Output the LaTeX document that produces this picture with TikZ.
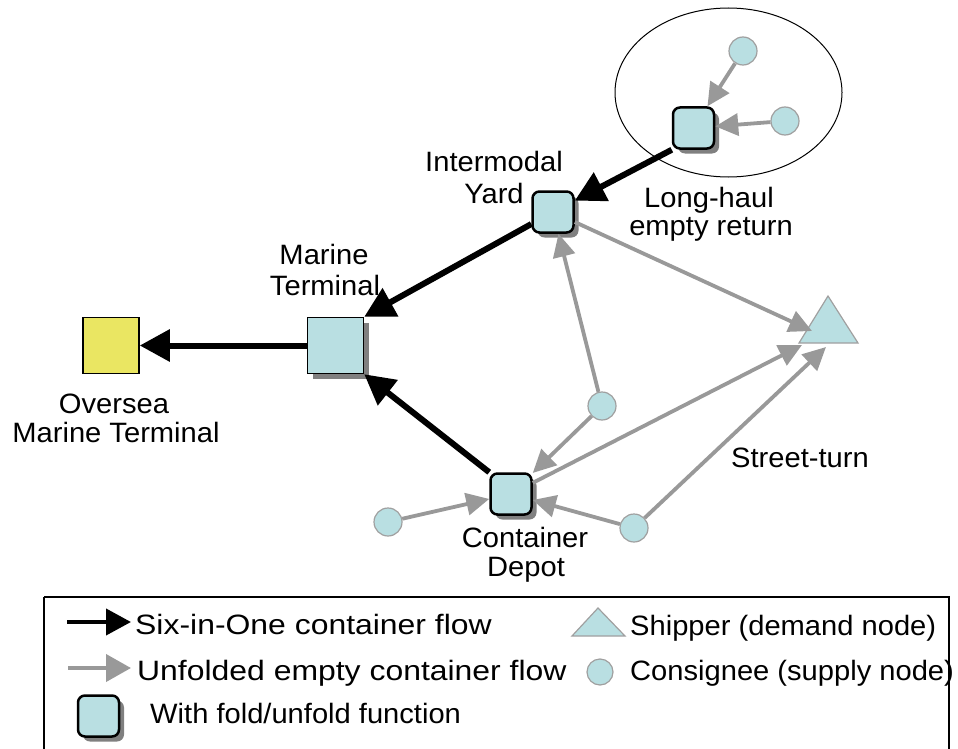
\documentclass[tikz,border=0pt]{standalone}
\usepackage{fontspec}
\setmainfont[FakeStretch=1.04]{Liberation Sans}
\newfontfamily\wideface[FakeStretch=1.14]{Liberation Sans}
\usetikzlibrary{arrows.meta,shadows}

\definecolor{nodeblue}{RGB}{185,223,226}
\definecolor{termyellow}{RGB}{234,230,98}
\definecolor{flowgray}{RGB}{153,153,153}
\definecolor{rimgray}{RGB}{160,160,160}
\definecolor{shadowgray}{RGB}{128,128,128}

\tikzset{
  lbl/.style={anchor=base, inner sep=0pt, font=\fontsize{28}{31}\selectfont},
  legtxt/.style={anchor=base west, inner sep=0pt, font=\fontsize{28}{31}\selectfont},
  legwide/.style={anchor=base west, inner sep=0pt, font=\wideface\fontsize{28}{31}\selectfont},
  boxshadow/.style={drop shadow={shadow xshift=5pt, shadow yshift=-5pt, opacity=1, fill=shadowgray}},
  foldbox/.style={draw=black, line width=2.5pt, rounded corners=7pt, fill=nodeblue,
    minimum width=41pt, minimum height=41pt, inner sep=0pt, boxshadow},
  termbox/.style={draw=black, line width=1.5pt, fill=nodeblue,
    minimum width=56pt, minimum height=56pt, inner sep=0pt, boxshadow},
  overseabox/.style={draw=black, line width=1.5pt, fill=termyellow,
    minimum width=56pt, minimum height=56pt, inner sep=0pt},
  consignee/.style={circle, draw=rimgray, line width=1.2pt, fill=nodeblue,
    minimum size=28pt, inner sep=0pt},
  shipper/.style={draw=rimgray, line width=1.2pt, fill=nodeblue, line join=miter},
  sixflow/.style={draw=black, line width=6pt, -{Triangle[length=30pt,width=31pt]}},
  emptyflow/.style={draw=flowgray, line width=3.8pt, -{Triangle[length=23pt,width=22pt]}},
  legsix/.style={draw=black, line width=4pt, -{Triangle[length=25pt,width=26pt]}},
  legempty/.style={draw=flowgray, line width=4pt, -{Triangle[length=25pt,width=27pt]}},
}

\begin{document}
\begin{tikzpicture}[x=1pt, y=-1pt]
\useasboundingbox (0,0) rectangle (958,749);

% long-haul catchment region
\draw[line width=1pt] (728.5,92.5) ellipse [x radius=113.5pt, y radius=84.5pt];

% terminals, yards and depots
\node[overseabox] (ovs) at (111,345.5) {};
\node[termbox] (mt) at (335.5,345.5) {};
\node[foldbox] (iy) at (553,212) {};
\node[foldbox] (lh) at (693.5,128) {};
\node[foldbox] (cd) at (511,494) {};

% consignees
\node[consignee] (c1) at (743,51) {};
\node[consignee] (c2) at (785,121) {};
\node[consignee] (c3) at (602,406) {};
\node[consignee] (c4) at (388,522) {};
\node[consignee] (c5) at (634,528) {};

% shipper
\coordinate (shA) at (828,296);
\coordinate (shR) at (858,343);
\coordinate (shL) at (799,343);
\draw[shipper] (shA) -- (shR) -- (shL) -- cycle;
\coordinate (shin1) at (812,331);
\coordinate (shin2) at (802,345);
\coordinate (shin3) at (826,347);

% six-in-one flows
\draw[sixflow] (mt) -- (ovs);
\draw[sixflow] (iy) -- (mt.north east);
\draw[sixflow] (cd.north west) -- (mt.south east);
\draw[sixflow] (lh.south west) -- (iy);

% unfolded empty flows
\draw[emptyflow] (c1) -- (lh);
\draw[emptyflow] (c2) -- (lh);
\draw[emptyflow] (iy) -- (shin1);
\draw[emptyflow] (c3) -- (iy);
\draw[emptyflow] (c3) -- (cd);
\draw[emptyflow] (cd) -- (shin2);
\draw[emptyflow] (c5) -- (shin3);
\draw[emptyflow] (c5) -- (cd);
\draw[emptyflow] (c4) -- (cd);

% labels
\node[lbl] (ovsA) at (114,413) {Oversea};
\node[lbl] (ovsB) at (116,442) {Marine Terminal};
\node[lbl] (mtA) at (324,264) {Marine};
\node[lbl] (mtB) at (325,295) {Terminal};
\node[lbl] (iyA) at (494,171) {Intermodal};
\node[lbl] (iyB) at (494,203) {Yard};
\node[lbl] (lhA) at (709,207) {Long-haul};
\node[lbl] (lhB) at (711,235) {empty return};
\node[lbl] (cdA) at (525,547) {Container};
\node[lbl] (cdB) at (526,576) {Depot};
\node[lbl] (st) at (800,467) {Street-turn};

% legend
\draw[line width=2pt] (44,597) -- (44,760);
\draw[line width=2pt] (44,597) -- (949,597) -- (949,760);

\coordinate (lsixS) at (67,622);
\coordinate (lsixE) at (131,622);
\draw[legsix] (lsixS) -- (lsixE);
\node[legwide] (lsixT) at (135,634) {Six-in-One container flow};

\coordinate (lempS) at (68,668);
\coordinate (lempE) at (131,668);
\draw[legempty] (lempS) -- (lempE);
\node[legwide] (lempT) at (137,680) {Unfolded empty container flow};

\node[foldbox] (lfold) at (98.5,716) {};
\node[legtxt] (lfoldT) at (150,723) {With fold/unfold function};

\coordinate (lshA) at (598,608);
\coordinate (lshR) at (625,636);
\coordinate (lshL) at (572,636);
\draw[shipper] (lshA) -- (lshR) -- (lshL) -- cycle;
\node[legtxt] (lshT) at (630,635) {Shipper (demand node)};

\node[consignee, minimum size=26pt] (lcon) at (600,672) {};
\node[legtxt] (lconT) at (630,680) {Consignee (supply node)};
\end{tikzpicture}
\end{document}
